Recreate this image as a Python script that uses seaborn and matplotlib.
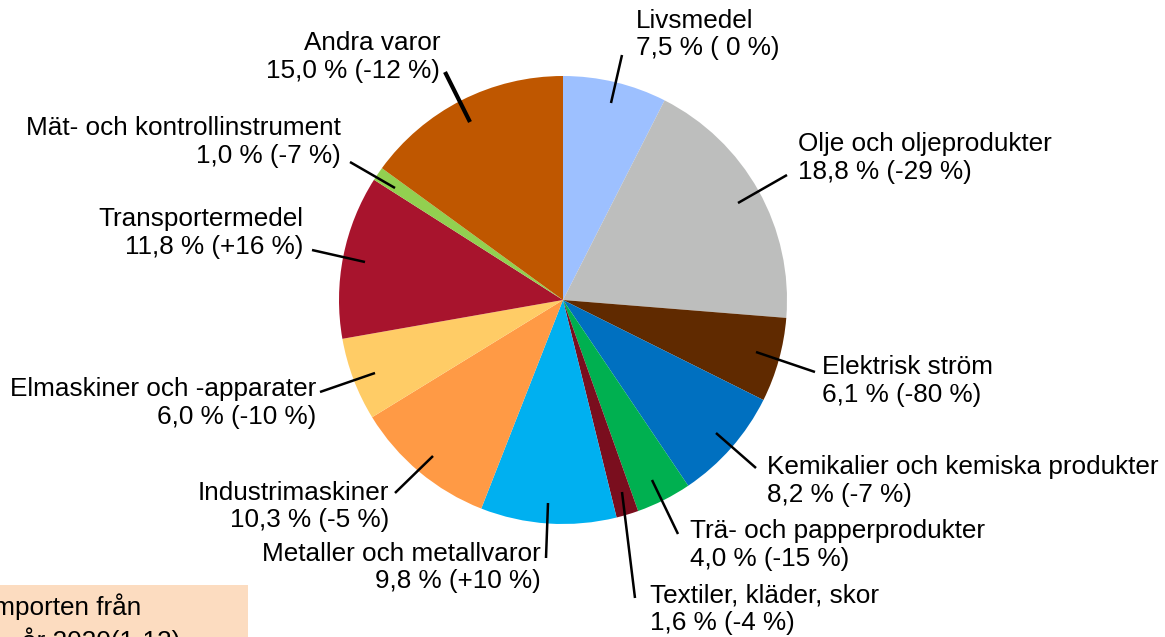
import matplotlib
matplotlib.use("Agg")
import matplotlib.pyplot as plt
import seaborn as sns
from matplotlib.patches import Rectangle

sns.set_theme(style="white")
plt.rcParams['font.family'] = ['Liberation Sans', 'DejaVu Sans']

categories = ["Livsmedel", "Olje och oljeprodukter", "Elektrisk ström",
              "Kemikalier och kemiska produkter", "Trä- och papperprodukter",
              "Textiler, kläder, skor", "Metaller och metallvaror",
              "Industrimaskiner", "Elmaskiner och -apparater",
              "Transportermedel", "Mät- och kontrollinstrument", "Andra varor"]
shares = [7.5, 18.8, 6.1, 8.2, 4.0, 1.6, 9.8, 10.3, 6.0, 11.8, 1.0, 15.0]
changes = ["( 0 %)", "(-29 %)", "(-80 %)", "(-7 %)", "(-15 %)", "(-4 %)",
           "(+10 %)", "(-5 %)", "(-10 %)", "(+16 %)", "(-7 %)", "(-12 %)"]
colors = ["#9DC0FF", "#BDBEBD", "#602A00", "#0070C0", "#00B050", "#7A0E1E",
          "#00B0F0", "#FF9A45", "#FFCC66", "#A8142D", "#92D050", "#BF5700"]
note_lines = ["Importen från", "år 2020(1-12)"]

W, H = 1165, 637
fig = plt.figure(figsize=(W / 100, H / 100), dpi=100)
ax = fig.add_axes([0, 0, 1, 1])

cx, cy, R = 563, H - 300, 224
ax.pie(shares, colors=colors, startangle=90, counterclock=False,
       center=(cx, cy), radius=R, wedgeprops=dict(linewidth=0))
ax.set_xlim(0, W)
ax.set_ylim(0, H)
ax.set_aspect('equal')
ax.axis('off')

# label layout in pixel coordinates (top-left origin): text anchor, alignment, leader line
layout = [
    ((636, 34.5), 'left', (611, 103), (622, 55)),
    ((798, 158), 'left', (738, 203), (787, 175)),
    ((822, 381), 'left', (756, 352), (815, 372)),
    ((767, 481), 'left', (716, 433), (756, 468)),
    ((690, 545), 'left', (652, 480), (678, 534)),
    ((650, 609), 'left', (622, 492), (635, 598)),
    ((541, 567.5), 'right', (548, 503), (546, 558)),
    ((389, 506.5), 'right', (433, 456), (395, 493)),
    ((316, 403), 'right', (375, 373), (320, 392)),
    ((303, 233), 'right', (365, 262), (312, 250)),
    ((341, 142), 'right', (395, 188), (350, 162)),
    ((440, 57), 'right', (470, 122), (445, 72)),
]

for cat, sh, ch, (tpos, ha, p0, p1) in zip(categories, shares, changes, layout):
    pct = f"{sh:.1f}".replace(".", ",")
    label = f"{cat}\n{pct} % {ch}"
    ax.text(tpos[0], H - tpos[1], label, ha=ha, va='center', multialignment=ha,
            fontsize=18.8, color='#000000', linespacing=1.2)
    lw = 3.0 if cat == "Andra varor" else 1.8
    ax.plot([p0[0], p1[0]], [H - p0[1], H - p1[1]], color='black', lw=lw,
            solid_capstyle='butt')

# partially visible note box at bottom-left
ax.add_patch(Rectangle((0, 0), 248, H - 585, facecolor='#FCDCC0', edgecolor='none',
                       zorder=0.5))
ax.text(-14, H - 607, note_lines[0], ha='left', va='center', fontsize=18.8, color='black')
ax.text(22, H - 641, note_lines[1], ha='left', va='center', fontsize=18.8, color='black')

fig.savefig("out.png", dpi=100)
